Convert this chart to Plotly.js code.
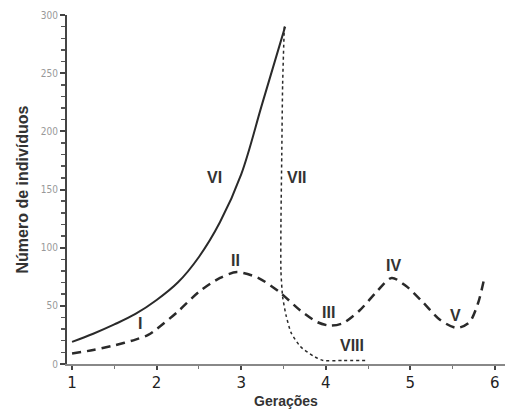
<!DOCTYPE html>
<html>
<head>
<meta charset="utf-8">
<script src="https://cdn.plot.ly/plotly-3.0.1.min.js"></script>
<style>html,body{margin:0;padding:0;background:#fff}#chart{width:509px;height:414px}</style>
</head>
<body>
<div id="chart"></div>
<script>
// Curve VI (solid, exponential growth)
const xVI = [1.0, 1.25, 1.5, 1.75, 2.0, 2.25, 2.5, 2.75, 3.0, 3.25, 3.52];
const yVI = [19, 26, 34, 43, 55, 70, 92, 122, 163, 224, 290];

// Curve I–V (dashed, oscillating)
const xOsc = [1.0, 1.25, 1.5, 1.75, 1.9, 2.0, 2.25, 2.5, 2.75, 2.95, 3.2, 3.45, 3.7, 3.9, 4.05, 4.2, 4.4, 4.6, 4.78, 4.95, 5.15, 5.35, 5.55, 5.7, 5.8, 5.87];
const yOsc = [9, 12, 16, 21, 25, 30, 45, 62, 74, 79, 74, 62, 46, 36, 33, 35, 46, 62, 74, 67, 53, 38, 31, 36, 52, 72];

// Curve VII–VIII (dotted, crash)
const xVII = [3.51, 3.49, 3.48, 3.47, 3.47, 3.49, 3.53, 3.59, 3.70, 3.85, 3.97, 4.2, 4.5];
const yVII = [290, 240, 180, 120, 80, 58, 42, 27, 15, 7, 3, 3, 3];

// Labels
const labelText = ["I", "II", "III", "IV", "V", "VI", "VII", "VIII"];
const labelX = [1.80, 2.93, 4.03, 4.80, 5.53, 2.69, 3.66, 4.31];
const labelY = [35, 89, 44, 85, 42, 160, 160, 16];

const xTicks = [1, 2, 3, 4, 5, 6];
const yTicks = [0, 50, 100, 150, 200, 250, 300];

const lineColor = '#2a2a2a';
const traces = [
  {x: xVI, y: yVI, mode: 'lines', line: {color: lineColor, width: 2, shape: 'spline', smoothing: 1}},
  {x: xOsc, y: yOsc, mode: 'lines', line: {color: lineColor, width: 2.5, dash: '9px,6px', shape: 'spline', smoothing: 0.8}},
  {x: xVII, y: yVII, mode: 'lines', line: {color: lineColor, width: 1.5, dash: 'dot', shape: 'spline', smoothing: 0.6}}
];

const annotations = labelText.map((t, i) => ({
  x: labelX[i], y: labelY[i], text: '<b>' + t + '</b>', showarrow: false,
  font: {family: 'Liberation Sans, Arial, sans-serif', size: 16, color: '#333'}
}));

const layout = {
  width: 509, height: 414,
  margin: {l: 67, r: 4, t: 15, b: 50},
  paper_bgcolor: '#fff', plot_bgcolor: '#fff',
  showlegend: false,
  xaxis: {
    range: [0.94, 6.12], tickvals: xTicks, ticktext: xTicks.map(String),
    showgrid: false, zeroline: false, showline: true, linecolor: '#888', linewidth: 2,
    ticks: 'outside', ticklen: 4, tickwidth: 2, tickcolor: '#444',
    minor: {dtick: 0.5, tick0: 1, ticks: 'outside', ticklen: 3, tickcolor: '#777', tickwidth: 1},
    tickfont: {family: 'DejaVu Sans, sans-serif', size: 15, color: '#222'},
    title: {text: '<b>Gerações</b>', standoff: 5, font: {family: 'Liberation Sans, Arial, sans-serif', size: 14, color: '#333'}}
  },
  yaxis: {
    range: [0, 300], tickvals: yTicks, ticktext: yTicks.map(String),
    showgrid: false, zeroline: false, showline: true, linecolor: '#444', linewidth: 2,
    ticks: 'outside', ticklen: 5, tickwidth: 2, tickcolor: '#444',
    minor: {dtick: 10, tick0: 0, ticks: 'outside', ticklen: 4, tickcolor: '#555', tickwidth: 1.5},
    tickfont: {family: 'DejaVu Sans Condensed, sans-serif', size: 10, color: '#999'},
    title: {text: '<b>Número de indivíduos</b>', standoff: 8, font: {family: 'Liberation Sans, Arial, sans-serif', size: 16, color: '#333'}}
  },
  annotations: annotations
};

Plotly.newPlot('chart', traces, layout, {displayModeBar: false, staticPlot: true});
</script>
</body>
</html>
